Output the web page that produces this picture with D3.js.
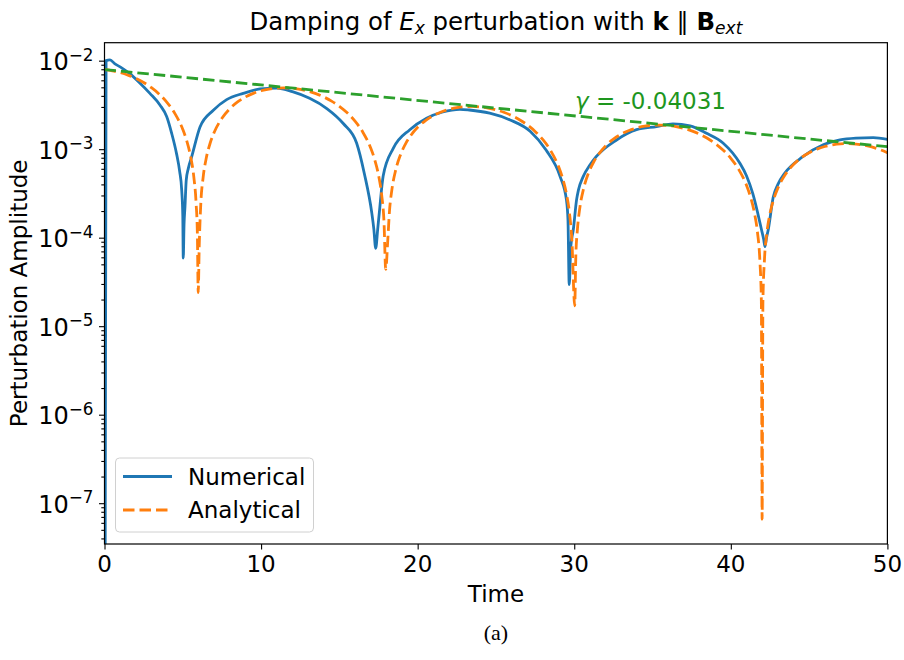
<!DOCTYPE html>
<html><head><meta charset="utf-8">
<script src="https://cdn.jsdelivr.net/npm/d3@7"></script>
<style>body{margin:0;background:#fff} text{font-family:"DejaVu Sans",sans-serif;fill:#000}</style>
</head><body><svg id="c" width="904" height="660"></svg>
<script>
// ---- data ----
const numerical = [[0,0],[0.1,1.0e-2],[0.35,1.02e-2],[0.67,9.19e-3],[1.0,8.51e-3],[1.63,7.08e-3],[2.27,5.56e-3],[2.9,4.27e-3],[3.54,3.16e-3],[3.97,2.34e-3],[4.29,1.51e-3],[4.6,8.91e-4],[4.8,5.62e-4],[4.93,3.47e-4],[5.0,1.78e-4],[5.03,5.89e-5],[5.08,1.41e-4],[5.14,2.24e-4],[5.22,4.47e-4],[5.35,6.03e-4],[5.57,8.22e-4],[6.1,1.78e-3],[6.95,2.75e-3],[7.8,3.63e-3],[8.86,4.27e-3],[9.93,4.79e-3],[11.0,4.90e-3],[12.0,4.47e-3],[13.1,3.76e-3],[14.2,2.88e-3],[15.25,1.95e-3],[16.1,1.175e-3],[16.6,5.25e-4],[17.07,1.905e-4],[17.2,1.26e-4],[17.32,7.59e-5],[17.45,1.26e-4],[17.55,1.905e-4],[17.8,5.01e-4],[18.44,1.02e-3],[19.5,1.66e-3],[20.57,2.24e-3],[21.6,2.63e-3],[22.7,2.82e-3],[23.3,2.77e-3],[24.6,2.55e-3],[25.9,2.14e-3],[27.2,1.585e-3],[28.2,9.77e-4],[29.1,4.90e-4],[29.5,2.69e-4],[29.6,1.585e-4],[29.68,2.95e-5],[29.78,7.94e-5],[29.94,1.23e-4],[30.15,2.69e-4],[30.27,3.47e-4],[30.57,4.90e-4],[31.0,6.61e-4],[31.4,8.22e-4],[32.7,1.27e-3],[33.98,1.66e-3],[35.26,1.80e-3],[36.3,1.93e-3],[37.4,1.83e-3],[38.45,1.51e-3],[39.5,1.175e-3],[40.58,6.92e-4],[41.0,5.01e-4],[41.4,3.16e-4],[41.96,1.23e-4],[42.1,9.55e-5],[42.18,7.94e-5],[42.28,1.0e-4],[42.39,1.23e-4],[42.71,2.88e-4],[43.0,3.98e-4],[43.45,5.37e-4],[44.6,8.22e-4],[45.9,1.12e-3],[46.97,1.27e-3],[48.0,1.33e-3],[49.1,1.35e-3],[50.0,1.29e-3]];
const analytical = [[0,7.90e-3],[0.5,7.676e-3],[1,7.330e-3],[1.5,6.871e-3],[2,6.312e-3],[2.5,5.667e-3],[3,4.950e-3],[3.5,4.177e-3],[4,3.362e-3],[4.5,2.522e-3],[5,1.671e-3],[5.25,1.247e-3],[5.5,8.26e-4],[5.7,4.93e-4],[5.85,2.45e-4],[5.93,1.14e-4],[5.985,2.4e-5],[6.05,8.1e-5],[6.15,2.42e-4],[6.3,4.81e-4],[6.5,7.94e-4],[6.75,1.174e-3],[7,1.542e-3],[7.5,2.235e-3],[8,2.862e-3],[8.5,3.415e-3],[9,3.887e-3],[9.5,4.274e-3],[10,4.573e-3],[10.5,4.781e-3],[11,4.898e-3],[11.5,4.927e-3],[12,4.871e-3],[12.5,4.733e-3],[13,4.520e-3],[13.5,4.236e-3],[14,3.892e-3],[14.5,3.494e-3],[15,3.052e-3],[15.5,2.575e-3],[16,2.073e-3],[16.5,1.555e-3],[17,1.031e-3],[17.25,7.69e-4],[17.5,5.10e-4],[17.7,3.04e-4],[17.85,1.51e-4],[17.96,4.4e-5],[18.1,9.97e-5],[18.2,1.99e-4],[18.35,3.45e-4],[18.6,5.84e-4],[18.9,8.61e-4],[19.25,1.169e-3],[19.5,1.378e-3],[20,1.765e-3],[20.5,2.106e-3],[21,2.396e-3],[21.5,2.635e-3],[22,2.819e-3],[22.5,2.947e-3],[23,3.020e-3],[23.5,3.038e-3],[24,3.003e-3],[24.5,2.918e-3],[25,2.787e-3],[25.5,2.612e-3],[26,2.400e-3],[26.5,2.154e-3],[27,1.882e-3],[27.5,1.588e-3],[28,1.278e-3],[28.5,9.59e-4],[29,6.35e-4],[29.25,4.74e-4],[29.5,3.14e-4],[29.7,1.87e-4],[29.85,9.3e-5],[30.03,1.7e-5],[30.1,6.15e-5],[30.2,1.22e-4],[30.35,2.13e-4],[30.6,3.60e-4],[30.9,5.31e-4],[31.25,7.21e-4],[31.5,8.50e-4],[32,1.088e-3],[32.5,1.298e-3],[33,1.478e-3],[33.5,1.625e-3],[34,1.738e-3],[34.5,1.817e-3],[35,1.862e-3],[35.5,1.874e-3],[36,1.852e-3],[36.5,1.799e-3],[37,1.718e-3],[37.5,1.610e-3],[38,1.479e-3],[38.5,1.328e-3],[39,1.160e-3],[39.5,9.79e-4],[40,7.88e-4],[40.5,5.91e-4],[41,3.92e-4],[41.25,2.92e-4],[41.5,1.94e-4],[41.7,1.16e-4],[41.85,5.74e-5],[41.95,1.91e-5],[42.0,6.6e-8],[42.05,1.90e-5],[42.15,5.69e-5],[42.3,1.13e-4],[42.5,1.87e-4],[42.75,2.76e-4],[43,3.62e-4],[43.5,5.24e-4],[44,6.71e-4],[44.5,8.01e-4],[45,9.11e-4],[45.5,1.002e-3],[46,1.072e-3],[46.5,1.121e-3],[47,1.148e-3],[47.5,1.155e-3],[48,1.142e-3],[48.5,1.109e-3],[49,1.060e-3],[49.5,9.93e-4],[50,9.12e-4]];
const fitLine = [[0,7.94e-3],[50,1.066e-3]];
const gammaValue = "-0.04031";
const seriesNames = ["Numerical","Analytical"];
const xTicks = [0,10,20,30,40,50];
const yDecades = [-7,-6,-5,-4,-3,-2];
const xDomain = [0,50];
const yDomainLog = [-7.461,-1.797];

// ---- layout ----
const L=104.5, R=887.4, T=42.7, B=544;
const FS=23, TICKFS=24, TITLEFS=24.4;
const svg = d3.select("#c");
const x = d3.scaleLinear().domain(xDomain).range([L,R]);
const y = d3.scaleLog().domain(yDomainLog.map(e=>Math.pow(10,e))).range([B,T]);

svg.append("defs").append("clipPath").attr("id","clip")
  .append("rect").attr("x",L).attr("y",T).attr("width",R-L).attr("height",B-T);

const line = d3.line().x(d=>x(d[0])).y(d=>y(Math.max(d[1],1e-12))).curve(d3.curveMonotoneX);
const plot = svg.append("g").attr("clip-path","url(#clip)");
plot.append("path").datum(numerical).attr("d",line)
  .attr("fill","none").attr("stroke","#1f77b4").attr("stroke-width",2.8).attr("stroke-linejoin","round");
plot.append("path").datum(analytical).attr("d",line)
  .attr("fill","none").attr("stroke","#ff7f0e").attr("stroke-width",2.8).attr("stroke-dasharray","11.5,5");
plot.append("path").datum(fitLine).attr("d",d3.line().x(d=>x(d[0])).y(d=>y(d[1])))
  .attr("fill","none").attr("stroke","#2ca02c").attr("stroke-width",2.8).attr("stroke-dasharray","11.5,5");

// ---- axes ----
const minor=[];
for (let e=-8;e<=-2;e++) for (let k=2;k<=9;k++){const v=k*Math.pow(10,e); if(v>=y.domain()[0]&&v<=y.domain()[1]) minor.push(v);}
const gy = svg.append("g").attr("transform",`translate(${L},0)`);
gy.call(d3.axisLeft(y).tickValues(minor).tickSize(3.2).tickFormat(""));
gy.call(g=>g.select(".domain").remove());
const gy2 = svg.append("g").attr("transform",`translate(${L},0)`);
gy2.call(d3.axisLeft(y).tickValues(yDecades.map(e=>Math.pow(10,e))).tickSize(5.5).tickFormat(""));
gy2.call(g=>g.select(".domain").remove());
svg.selectAll(".tick line").attr("stroke","#000").attr("stroke-width",1.1);

yDecades.forEach(e=>{
  const t = svg.append("text").attr("x",L-11).attr("y",y(Math.pow(10,e))+9.5)
    .attr("text-anchor","end").style("font-size",TICKFS+"px");
  t.append("tspan").text("10");
  t.append("tspan").attr("dy",-9.5).style("font-size",(TICKFS*0.7)+"px").text("\u2212"+Math.abs(e));
});

const gx = svg.append("g").attr("transform",`translate(0,${B})`);
gx.call(d3.axisBottom(x).tickValues(xTicks).tickSize(5.5).tickFormat(""));
gx.call(g=>g.select(".domain").remove());
gx.selectAll(".tick line").attr("stroke","#000").attr("stroke-width",1.1);
xTicks.forEach(v=>{
  svg.append("text").attr("x",x(v)).attr("y",B+28).attr("text-anchor","middle")
    .style("font-size",FS+"px").text(d3.format("d")(v));
});

svg.append("rect").attr("x",L).attr("y",T).attr("width",R-L).attr("height",B-T)
  .attr("fill","none").attr("stroke","#000").attr("stroke-width",1.2);

// ---- labels ----
svg.append("text").attr("x",(L+R)/2).attr("y",B+58).attr("text-anchor","middle")
  .style("font-size",FS+"px").text("Time");
svg.append("text").attr("transform",`translate(27,${(T+B)/2}) rotate(-90)`).attr("text-anchor","middle")
  .style("font-size",FS+"px").text("Perturbation Amplitude");

const title = svg.append("text").attr("x",(L+R)/2).attr("y",30).attr("text-anchor","middle").style("font-size",TITLEFS+"px");
title.append("tspan").text("Damping of ");
title.append("tspan").style("font-style","italic").text("E");
title.append("tspan").style("font-style","italic").style("font-size",(TITLEFS*0.7)+"px").attr("dy",4).text("x");
title.append("tspan").attr("dy",-4).text(" perturbation with ");
title.append("tspan").style("font-weight","bold").text("k");
title.append("tspan").text(" \u2225 ");
title.append("tspan").style("font-weight","bold").text("B");
title.append("tspan").style("font-style","italic").style("font-size",(TITLEFS*0.7)+"px").attr("dy",4).text("ext");

const gl = svg.append("text").attr("x",575).attr("y",109).style("font-size",FS+"px").style("fill","#1e961e");
gl.append("tspan").style("font-style","italic").text("\u03b3");
gl.append("tspan").text(" = "+gammaValue);

// ---- legend ----
const lg = svg.append("g");
lg.append("rect").attr("x",115.5).attr("y",458).attr("width",198).attr("height",74).attr("rx",4)
  .attr("fill","#fff").attr("fill-opacity",0.8).attr("stroke","#d0d0d0").attr("stroke-width",1);
const styles=[{c:"#1f77b4",d:null},{c:"#ff7f0e",d:"11.5,5"}];
seriesNames.forEach((n,i)=>{
  const yy = 476.5 + i*33.5;
  const ln = lg.append("line").attr("x1",123).attr("x2",172).attr("y1",yy).attr("y2",yy)
    .attr("stroke",styles[i].c).attr("stroke-width",2.8);
  if (styles[i].d) ln.attr("stroke-dasharray",styles[i].d);
  lg.append("text").attr("x",188).attr("y",yy+8).style("font-size",FS+"px").text(n);
});

// ---- caption ----
svg.append("text").attr("x",(L+R)/2).attr("y",640).attr("text-anchor","middle")
  .style("font-family","'Liberation Serif',serif").style("font-size","22px").text("(a)");
</script></body></html>
